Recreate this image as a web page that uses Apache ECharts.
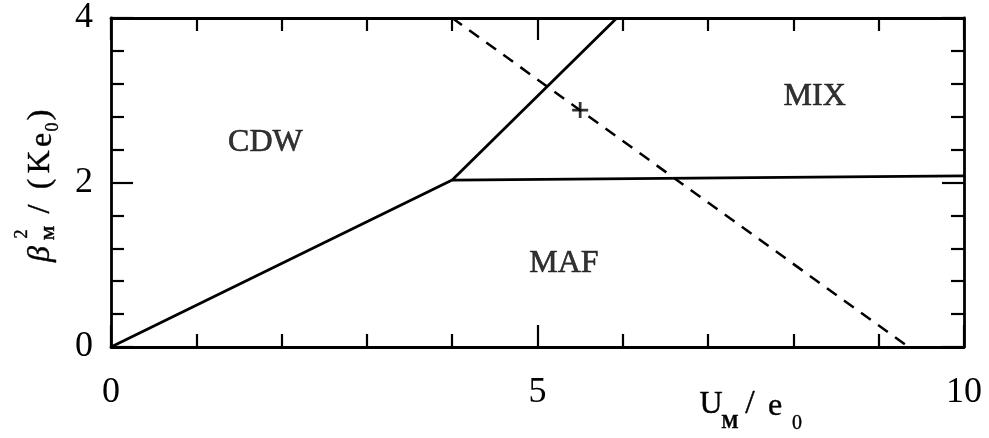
<!DOCTYPE html>
<html style="height:100%">
<head>
    <meta charset="UTF-8">
    <title>Phase diagram</title>
    <script src="https://cdn.jsdelivr.net/npm/echarts@6/dist/echarts.min.js"></script>
</head>
<body style="height:100%;margin:0;background:#fff">
    <div id="main" style="width:989px;height:438px"></div>
    <script>
        // phase boundaries (U_M/e0, beta^2/(K e0))
        var cdwX = [0, 4.0, 5.93];
        var cdwY = [0, 2.03, 4];
        var mafX = [4.0, 10];
        var mafY = [2.03, 2.08];
        var dashX = [4.0, 9.35];
        var dashY = [4, 0];
        var crossX = [5.5];
        var crossY = [2.88];
        var regionNames = ['CDW', 'MIX', 'MAF'];
        var regionX = [1.81, 8.25, 5.31];
        var regionY = [2.48, 3.05, 1.02];
        var xTicks = [0, 5, 10];
        var yTicks = [0, 2, 4];

        function pairs(xs, ys) {
            return xs.map(function (x, i) { return [x, ys[i]]; });
        }

        var serif = 'Liberation Serif';
        var lineW = 2.8;

        var chart = echarts.init(document.getElementById('main'), null, { renderer: 'canvas' });

        function axisBase(pos, isX, showLabel) {
            return {
                type: 'value',
                position: pos,
                min: isX ? xTicks[0] : yTicks[0],
                max: isX ? xTicks[xTicks.length - 1] : yTicks[yTicks.length - 1],
                interval: isX ? xTicks[1] - xTicks[0] : yTicks[1] - yTicks[0],
                axisLine: { show: true, onZero: false, lineStyle: { color: '#000', width: lineW } },
                axisTick: { show: true, inside: true, length: 22, lineStyle: { color: '#000', width: 2.2 } },
                minorTick: { show: true, splitNumber: 5, length: 13, lineStyle: { color: '#000', width: 2.2 } },
                splitLine: { show: false },
                minorSplitLine: { show: false },
                axisLabel: {
                    show: showLabel,
                    color: '#000',
                    fontFamily: serif,
                    fontSize: 36,
                    margin: isX ? 28 : 18
                }
            };
        }

        // one piece of an axis title; x, y is the centre of the glyph box
        function piece(t, x, y, size, weight, style) {
            return {
                type: 'text',
                style: {
                    text: t, x: x, y: y, fill: '#000',
                    fontFamily: serif, fontSize: size,
                    fontWeight: weight || 'normal', fontStyle: style || 'normal',
                    align: 'center', verticalAlign: 'middle',
                    stroke: '#000', lineWidth: 0.4
                }
            };
        }

        var option = {
            backgroundColor: '#fff',
            animation: false,
            grid: { left: 111, top: 13, width: 853, height: 334, containLabel: false },
            xAxis: [axisBase('bottom', true, true), axisBase('top', true, false)],
            yAxis: [axisBase('left', false, true), axisBase('right', false, false)],
            series: [
                {
                    type: 'line', data: pairs(cdwX, cdwY), symbol: 'none',
                    lineStyle: { color: '#000', width: lineW }
                },
                {
                    type: 'line', data: pairs(mafX, mafY), symbol: 'none',
                    lineStyle: { color: '#000', width: lineW }
                },
                {
                    type: 'line', data: pairs(dashX, dashY), symbol: 'none',
                    lineStyle: { color: '#000', width: 2.5, type: [12, 9] }
                },
                {
                    type: 'scatter', data: pairs(crossX, crossY),
                    symbol: 'path://M-1.2,-7 h2.4 v5.8 h5.8 v2.4 h-5.8 v5.8 h-2.4 v-5.8 h-5.8 v-2.4 h5.8 z',
                    symbolSize: 16,
                    itemStyle: { color: '#000' }
                },
                {
                    type: 'scatter',
                    symbolSize: 0,
                    data: regionNames.map(function (n, i) { return { name: n, value: [regionX[i], regionY[i]] }; }),
                    label: {
                        show: true, position: 'inside', formatter: '{b}',
                        color: '#000', fontFamily: serif, fontSize: 32,
                        textBorderColor: '#000', textBorderWidth: 0.6
                    }
                }
            ],
            graphic: [
                {
                    // x axis title: U_M / e_0
                    type: 'group',
                    children: [
                        piece('U', 711, 405, 32),
                        piece('M', 730, 423, 18, 'bold'),
                        piece('/', 750, 404, 34),
                        piece('e', 775, 407, 32),
                        piece('0', 797, 424, 20)
                    ]
                },
                {
                    // y axis title: beta^2_M / (K e_0), rotated
                    type: 'group',
                    x: 52,
                    y: 267,
                    rotation: Math.PI / 2,
                    children: [
                        piece('β', 13, -11, 32, 'normal', 'italic'),
                        piece('2', 33, -30, 18),
                        piece('M', 34, -2, 15, 'bold'),
                        piece('/', 58, -11, 32),
                        piece('(', 83, -11, 32),
                        piece('K', 105, -11, 32),
                        piece('e', 127, -9, 32),
                        piece('0', 140, 1, 18),
                        piece(')', 152, -11, 32)
                    ]
                }
            ]
        };
        chart.setOption(option);
    </script>
</body>
</html>
